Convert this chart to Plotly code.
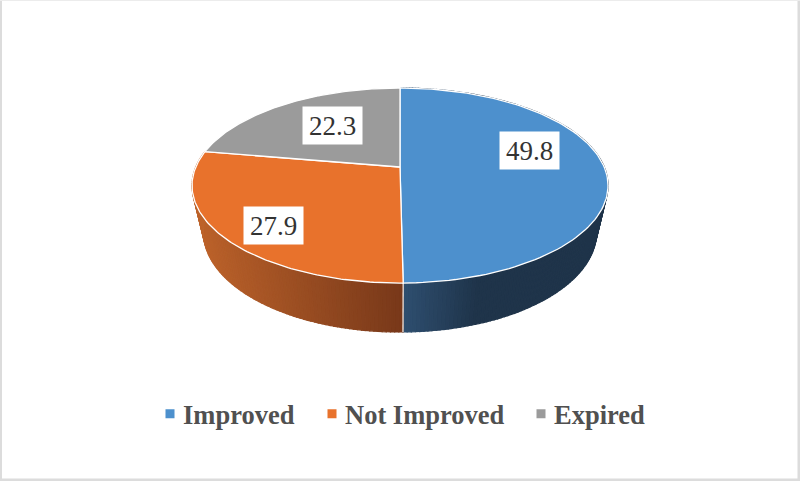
import numpy as np
import plotly.graph_objects as go

categories = ["Improved", "Not Improved", "Expired"]
values = [49.8, 27.9, 22.3]
value_labels = ["49.8", "27.9", "22.3"]
colors = ["#4d90cd", "#e8722c", "#9b9b9b"]

# pie drawing geometry (perspective view of a disc), in pixel-like axis units
TOP = dict(cx=400, cy=167, a=204.2, b=94, k=0.19)
BOT = dict(cx=400, cy=213, a=193, b=96.4, k=0.19)
label_xy = [(529.5, 150), (273.5, 225.5), (332, 125.5)]
side_ramps = [("#2f4f70", "#1f344a", 403, 475), ("#79391a", "#c0652c", 400, 195), None]
legend_left = [150, 312, 521]


def project(deg, g, r=1.0):
    t = np.radians(deg)
    u, v = r * np.sin(t), r * np.cos(t)
    w = 1 + g["k"] * v
    return g["cx"] + g["a"] * u / w, g["cy"] - g["b"] * v / w


def hex_rgb(h):
    return np.array([int(h[i:i + 2], 16) for i in (1, 3, 5)], dtype=float)


def ramp(spec, x):
    c0, c1, x0, x1 = spec
    f = float(np.clip((x - x0) / (x1 - x0), 0, 1))
    c = hex_rgb(c0) * (1 - f) + hex_rgb(c1) * f
    return "rgb(%d,%d,%d)" % tuple(c)


total = sum(values)
edges = np.concatenate([[0], np.cumsum(values)]) / total * 360

fig = go.Figure()

# side wall, strip by strip so the shading can follow the screen position
for i, spec in enumerate(side_ramps):
    if spec is None:
        continue
    steps = max(2, int((edges[i + 1] - edges[i]) / 1.0))
    angs = np.linspace(edges[i], edges[i + 1], steps + 1)
    for a0, a1 in zip(angs[:-1], angs[1:]):
        x0, y0 = project(a0, TOP)
        x1, y1 = project(a1, TOP)
        x2, y2 = project(a1, BOT)
        x3, y3 = project(a0, BOT)
        col = ramp(spec, (x2 + x3) / 2)
        fig.add_trace(go.Scatter(
            x=[x0, x1, x2, x3, x0], y=[y0, y1, y2, y3, y0], mode="lines",
            fill="toself", fillcolor=col, line=dict(color=col, width=1.2),
            showlegend=False, hoverinfo="skip"))

# seam on the wall between the two front slices
sx0, sy0 = project(edges[1], TOP)
sx1, sy1 = project(edges[1], BOT)
fig.add_trace(go.Scatter(x=[sx0, sx1], y=[sy0, sy1], mode="lines",
                         line=dict(color="#f2f2f2", width=1.2),
                         showlegend=False, hoverinfo="skip"))

# top face
for i, name in enumerate(categories):
    angs = np.linspace(edges[i], edges[i + 1], 120)
    xs, ys = project(angs, TOP)
    cx, cy = TOP["cx"], TOP["cy"]
    fig.add_trace(go.Scatter(
        x=[cx, *xs, cx], y=[cy, *ys, cy], mode="lines", fill="toself",
        fillcolor=colors[i], line=dict(color="white", width=1.3),
        showlegend=False, hoverinfo="skip"))

# one legend per entry so that each can sit where the reference has it
legends = {}
for i, name in enumerate(categories):
    key = "legend" if i == 0 else f"legend{i + 1}"
    fig.add_trace(go.Scatter(
        x=[None], y=[None], mode="markers", name=name, legend=key, showlegend=True,
        marker=dict(symbol="square", size=9, color=colors[i])))
    legends[key] = dict(
        orientation="h", x=legend_left[i] / 800, xanchor="left", y=0.139, yanchor="middle",
        font=dict(family="Liberation Serif", size=26.5, color="#505050", weight="bold"),
        itemwidth=30, indentation=-7, bgcolor="rgba(0,0,0,0)")

for (lx, ly), txt in zip(label_xy, value_labels):
    fig.add_annotation(
        x=lx, y=ly, text=txt, showarrow=False, bgcolor="white", borderpad=0,
        width=59, height=37, align="center", valign="middle",
        font=dict(family="Liberation Serif", size=27, color="#333333"))

frame = "#dcdcdc"
shapes = [
    dict(type="line", xref="paper", yref="paper", x0=0, x1=0, y0=0, y1=1, line=dict(color=frame, width=4)),
    dict(type="line", xref="paper", yref="paper", x0=1, x1=1, y0=0, y1=1, line=dict(color=frame, width=5)),
    dict(type="line", xref="paper", yref="paper", x0=0, x1=1, y0=0, y1=0, line=dict(color=frame, width=5)),
    dict(type="line", xref="paper", yref="paper", x0=0, x1=1, y0=1, y1=1, line=dict(color="#ececec", width=2)),
]

fig.update_layout(
    width=800, height=481, margin=dict(l=0, r=0, t=0, b=0, pad=0),
    paper_bgcolor="white", plot_bgcolor="white", shapes=shapes,
    xaxis=dict(range=[0, 800], visible=False, fixedrange=True),
    yaxis=dict(range=[481, 0], visible=False, fixedrange=True),
    **legends,
)

fig.write_html(
    "out.html", config=dict(displayModeBar=False),
    post_script=(
        "document.body.style.margin='0';document.body.style.overflow='hidden';"
        "document.querySelectorAll('.legendsymbols').forEach(function(g){"
        "g.setAttribute('transform','translate(7,0)');});"
    ),
)
